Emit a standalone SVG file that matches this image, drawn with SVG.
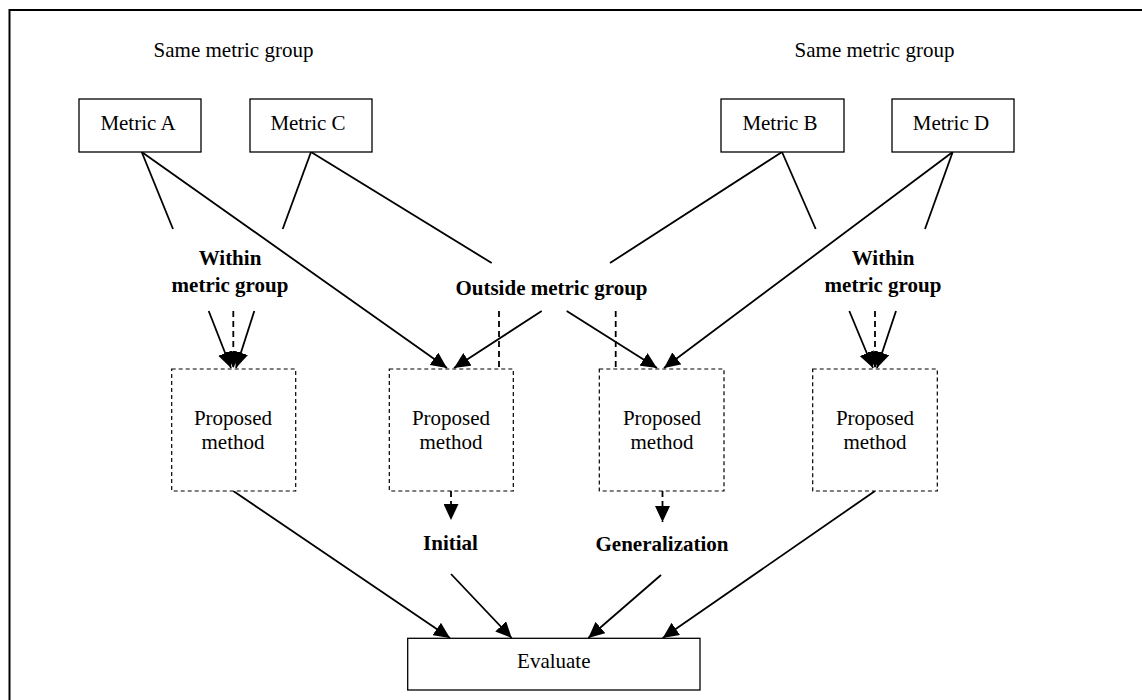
<svg xmlns="http://www.w3.org/2000/svg" width="1142" height="700" viewBox="0 0 1142 700">
  <style>
    .txt { font-family: "Liberation Serif", "Times New Roman", serif; font-size: 21px; fill: #000; text-anchor: middle; }
    .bold { font-weight: bold; }
    .box { fill: #fff; stroke: #000; stroke-width: 1.3; }
    .dbox { fill: #fff; stroke: #000; stroke-width: 1.2; stroke-dasharray: 4 3; }
    .ln { fill: none; stroke: #000; stroke-width: 1.8; }
    .dash { fill: none; stroke: #000; stroke-width: 1.8; stroke-dasharray: 6 4; }
    .frame { fill: none; stroke: #000; stroke-width: 2; }
  </style>
  <defs>
    <marker id="arrow" viewBox="0 0 16 15" refX="16" refY="7.5" markerWidth="16" markerHeight="15" markerUnits="userSpaceOnUse" orient="auto">
      <path d="M0,0 L16,7.5 L0,15 z" fill="#000"/>
    </marker>
  </defs>

  <rect width="1142" height="700" fill="#fff"/>

  <!-- frame: top and left edges -->
  <path class="frame" d="M9.5,700 V10 H1142"/>

  <!-- group captions -->
  <g id="caption-left"><text class="txt" x="233.5" y="57">Same metric group</text></g>
  <g id="caption-right"><text class="txt" x="874.5" y="57">Same metric group</text></g>

  <!-- connectors -->
  <g id="connectors">
    <!-- Metric A -->
    <line class="ln" x1="141.7" y1="152" x2="173" y2="229"/>
    <line class="ln" x1="141.7" y1="152" x2="447" y2="368" marker-end="url(#arrow)"/>
    <!-- Metric C -->
    <line class="ln" x1="311" y1="152" x2="282.7" y2="229"/>
    <line class="ln" x1="311" y1="152" x2="491.7" y2="263"/>
    <!-- Metric B -->
    <line class="ln" x1="782" y1="152" x2="815.7" y2="229"/>
    <line class="ln" x1="782" y1="152" x2="610" y2="263"/>
    <!-- Metric D -->
    <line class="ln" x1="952.7" y1="152" x2="925" y2="229"/>
    <line class="ln" x1="952.7" y1="152" x2="664" y2="368" marker-end="url(#arrow)"/>

    <!-- within group, left -->
    <line class="ln" x1="208.7" y1="311" x2="231" y2="368" marker-end="url(#arrow)"/>
    <line class="ln" x1="254.3" y1="311" x2="236" y2="368" marker-end="url(#arrow)"/>
    <line class="dash" x1="233.3" y1="311" x2="233.3" y2="368" marker-end="url(#arrow)"/>

    <!-- within group, right -->
    <line class="ln" x1="849.3" y1="311" x2="873" y2="368" marker-end="url(#arrow)"/>
    <line class="ln" x1="896" y1="311" x2="877" y2="368" marker-end="url(#arrow)"/>
    <line class="dash" x1="875" y1="311" x2="875" y2="368" marker-end="url(#arrow)"/>

    <!-- outside group -->
    <line class="ln" x1="541.7" y1="311" x2="454" y2="368" marker-end="url(#arrow)"/>
    <line class="ln" x1="566.7" y1="311" x2="657" y2="368" marker-end="url(#arrow)"/>
    <line class="dash" x1="499" y1="311" x2="499" y2="369"/>
    <line class="dash" x1="615.7" y1="311" x2="615.7" y2="369"/>

    <!-- towards evaluation -->
    <line class="dash" x1="451" y1="491" x2="451" y2="520" marker-end="url(#arrow)"/>
    <line class="dash" x1="662.5" y1="491" x2="662.5" y2="522" marker-end="url(#arrow)"/>
    <line class="ln" x1="233.3" y1="491" x2="450" y2="638" marker-end="url(#arrow)"/>
    <line class="ln" x1="451" y1="574" x2="511.7" y2="638" marker-end="url(#arrow)"/>
    <line class="ln" x1="661" y1="575" x2="588.3" y2="638" marker-end="url(#arrow)"/>
    <line class="ln" x1="875" y1="491" x2="662.7" y2="638" marker-end="url(#arrow)"/>
  </g>

  <!-- metrics -->
  <g id="metric-a">
    <rect class="box" x="79" y="99" width="122" height="53"/>
    <text class="txt" x="138" y="130">Metric A</text>
  </g>
  <g id="metric-c">
    <rect class="box" x="250" y="99" width="122" height="53"/>
    <text class="txt" x="308" y="130">Metric C</text>
  </g>
  <g id="metric-b">
    <rect class="box" x="721" y="99" width="123" height="53"/>
    <text class="txt" x="780" y="130">Metric B</text>
  </g>
  <g id="metric-d">
    <rect class="box" x="892" y="99" width="122" height="53"/>
    <text class="txt" x="951" y="130">Metric D</text>
  </g>

  <!-- relation labels -->
  <g id="within-left">
    <text class="txt bold" x="230" y="265">Within</text>
    <text class="txt bold" x="230" y="291.5">metric group</text>
  </g>
  <g id="outside">
    <text class="txt bold" x="551.5" y="295">Outside metric group</text>
  </g>
  <g id="within-right">
    <text class="txt bold" x="883" y="265">Within</text>
    <text class="txt bold" x="883" y="291.5">metric group</text>
  </g>

  <!-- proposed method boxes -->
  <g id="method-1">
    <rect class="dbox" x="171.7" y="369" width="124" height="122"/>
    <text class="txt" x="233" y="425">Proposed</text>
    <text class="txt" x="233" y="449">method</text>
  </g>
  <g id="method-2">
    <rect class="dbox" x="389.3" y="369" width="124" height="122"/>
    <text class="txt" x="451" y="425">Proposed</text>
    <text class="txt" x="451" y="449">method</text>
  </g>
  <g id="method-3">
    <rect class="dbox" x="599.3" y="369" width="124.7" height="122"/>
    <text class="txt" x="662" y="425">Proposed</text>
    <text class="txt" x="662" y="449">method</text>
  </g>
  <g id="method-4">
    <rect class="dbox" x="812.7" y="369" width="124.6" height="122"/>
    <text class="txt" x="875" y="425">Proposed</text>
    <text class="txt" x="875" y="449">method</text>
  </g>

  <!-- outcome labels -->
  <g id="initial"><text class="txt bold" x="450.5" y="550">Initial</text></g>
  <g id="generalization"><text class="txt bold" x="662" y="551">Generalization</text></g>

  <!-- evaluation -->
  <g id="evaluate">
    <rect class="box" x="407.7" y="638.3" width="292.3" height="51.7"/>
    <text class="txt" x="553.8" y="668">Evaluate</text>
  </g>
</svg>
